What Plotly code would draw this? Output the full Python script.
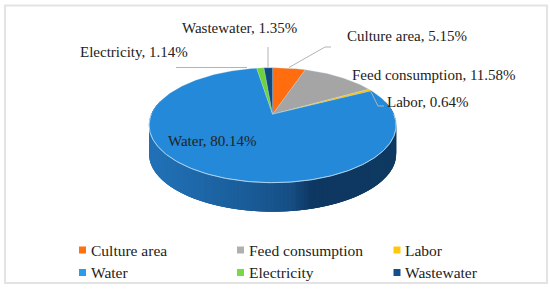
import numpy as np
import plotly.graph_objects as go

categories = ["Culture area", "Feed consumption", "Labor", "Water", "Electricity", "Wastewater"]
shares = [5.15, 11.58, 0.64, 80.14, 1.14, 1.35]
colors = ["#FF6D0E", "#A5A5A5", "#FFC000", "#2389D8", "#6DD33C", "#0F4A80"]
legend_colors = ["#FF7010", "#B0B0B0", "#FFC80A", "#2C9BE8", "#78D848", "#11508C"]
wall_stops = [(149, "#2272B8"), (190, "#1F6AAC"), (250, "#1A5C98"), (290, "#174F85"), (312, "#0E3762"), (396, "#0F3A60")]

W, H = 550, 290
CX, CY = 272.6, 114.3
A, B, P = 55.4, 121.3, 0.1896
DEPTH = 29.0
FONT = "Liberation Serif"
TEXT = "#222222"


def project(theta):
    u, v = np.sin(theta), np.cos(theta)
    d = 1 + P * v
    return CX + B * u / d, CY - A * v / d


def hex_rgb(c):
    return np.array([int(c[i:i + 2], 16) for i in (1, 3, 5)], float)


def wall_color(x):
    xs = [s[0] for s in wall_stops]
    rgb = [np.interp(x, xs, [hex_rgb(s[1])[k] for s in wall_stops]) for k in range(3)]
    return "rgb(%d,%d,%d)" % tuple(rgb)


fig = go.Figure()

# side wall: overlapping strips, painted in order so no background shows between them
tt = np.linspace(np.pi * 0.42, np.pi * 1.58, 130)
step = tt[1] - tt[0]
for a in tt[:-1]:
    t2 = np.linspace(a, min(a + 3 * step, tt[-1]), 5)
    x, y = project(t2)
    c = wall_color(project(np.array([a + step / 2]))[0][0])
    fig.add_trace(go.Scatter(
        x=np.r_[x, x[::-1]], y=np.r_[y, (y + DEPTH)[::-1]],
        mode="lines", fill="toself", line=dict(width=0),
        fillcolor=c, hoverinfo="skip", showlegend=False))

# top slices, from the shares
edges = np.r_[0, np.cumsum(shares)] / sum(shares) * 2 * np.pi
for i, name in enumerate(categories):
    t = np.linspace(edges[i], edges[i + 1], max(3, int((edges[i + 1] - edges[i]) * 60)))
    x, y = project(t)
    fig.add_trace(go.Scatter(
        x=np.r_[CX, x, CX], y=np.r_[CY, y, CY],
        mode="lines", fill="toself", fillcolor=colors[i],
        line=dict(color="rgba(190,220,240,0.45)", width=0.6),
        name=name, hoverinfo="name", showlegend=False))

# pale rim on the front edge
x, y = project(np.linspace(np.pi * 0.5, np.pi * 1.5, 200))
fig.add_trace(go.Scatter(x=x, y=y, mode="lines", line=dict(color="#A9D3EE", width=1),
                         hoverinfo="skip", showlegend=False))

# leader lines
leaders = [
    ([289, 325, 331], [67.5, 47, 47]),
    ([370, 378, 384], [90, 106, 106]),
    ([247, 176], [67.5, 67.5]),
    ([268, 268], [67, 47]),
]
for lx, ly in leaders:
    fig.add_trace(go.Scatter(x=lx, y=ly, mode="lines", line=dict(color="#B4B4B4", width=1),
                             hoverinfo="skip", showlegend=False))

labels = ["%s, %.2f%%" % (n, s) for n, s in zip(categories, shares)]
label_pos = [(347, 36), (352, 75), (387, 102), (168, 141), (80, 52), (182, 28)]
annotations = [dict(x=px, y=py, xref="x", yref="y", text=t, showarrow=False, xanchor="left",
                    yanchor="middle", xshift=-2, font=dict(family=FONT, size=15, color=TEXT))
               for t, (px, py) in zip(labels, label_pos)]

# legend grid: three columns, two rows
col_x = [82.5, 240.5, 397]
row_y = [250, 272.5]
for i, (name, c) in enumerate(zip(categories, legend_colors)):
    lx, ly = col_x[i % 3], row_y[i // 3]
    fig.add_trace(go.Scatter(x=[lx], y=[ly], mode="markers", name=name, hoverinfo="name",
                             marker=dict(symbol="square", size=7, color=c), showlegend=False))
    annotations.append(dict(x=lx + 8, y=ly, xref="x", yref="y", text=name, showarrow=False,
                            xanchor="left", yanchor="middle", xshift=-2,
                            font=dict(family=FONT, size=15.5, color=TEXT)))

frame = dict(type="rect", x0=5, y0=5.5, x1=547, y1=283, line=dict(color="#E3E3E3", width=2),
             xref="x", yref="y", layer="below")

fig.update_layout(
    width=W, height=H, margin=dict(l=0, r=0, t=0, b=0),
    paper_bgcolor="white", plot_bgcolor="white",
    xaxis=dict(range=[0, W], visible=False, fixedrange=True),
    yaxis=dict(range=[H, 0], visible=False, fixedrange=True),
    shapes=[frame], annotations=annotations,
    showlegend=False,
)
fig.write_html("out.html", config=dict(displayModeBar=False),
               post_script="document.body.style.margin='0';document.body.style.overflow='hidden';")
